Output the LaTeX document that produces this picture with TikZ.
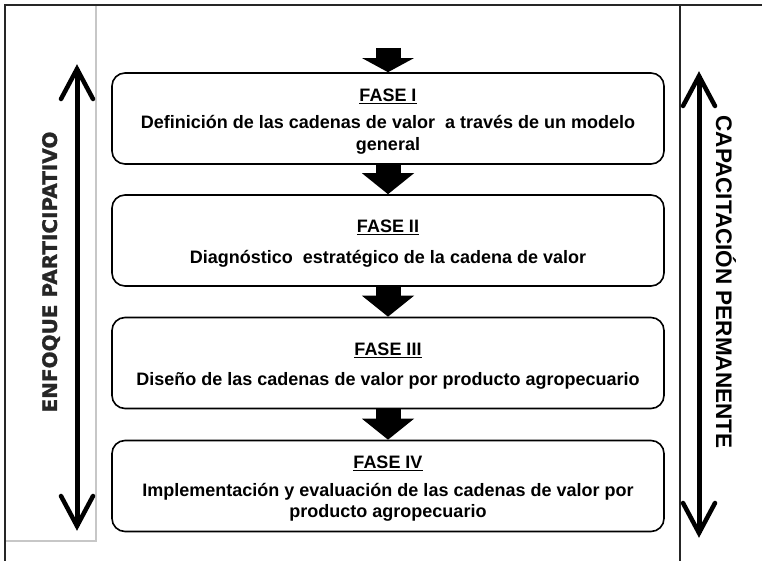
\documentclass[tikz,border=0pt]{standalone}
\usepackage{fontspec}
\setmainfont{Liberation Sans}
\newfontfamily\dejab[FakeBold=1.2]{DejaVu Sans}
\usetikzlibrary{arrows.meta,calc}

\begin{document}
\begin{tikzpicture}[x=1pt,y=-1pt,
  fasebox/.style={draw, line width=1.6pt, rounded corners=13pt,
    minimum width=552pt, minimum height=91pt, inner sep=0pt},
  fasetext/.style={align=center, inner sep=0pt,
    font=\bfseries\fontsize{18}{21.5}\selectfont},
  blockarrow/.style={line width=25pt, -{Triangle[length=21pt,width=51pt]}},
  toparrow/.style={line width=25pt, -{Triangle[length=14pt,width=51pt]}},
  shaft/.style={line width=5pt},
  chevron/.style={line width=4.5pt, line cap=round, line join=miter},
  frameline/.style={line width=1.5pt, black!85},
  panelline/.style={line width=2pt, black!22},
]
\useasboundingbox (0,0) rectangle (762,561);

% frame
\draw[panelline] (96,5) -- (96,541) -- (5,541);
\draw[frameline] (5,561) -- (5,5) -- (762,5);
\draw[frameline] (680,5) -- (680,561);

% phase boxes
\node[fasebox] (b1) at (388,118.5) {};
\node[fasebox] (b2) at (388,240.5) {};
\node[fasebox] (b3) at (388,363) {};
\node[fasebox] (b4) at (388,486) {};

\node[fasetext] (t1) at ($(b1.center)+(0,3)$) {\underline{FASE I}\\[6pt]Definición de las cadenas de valor\ \ a través de un modelo\\general};
\node[fasetext] (t2) at ($(b2.center)+(0,3)$) {\underline{FASE II}\\[9pt]Diagnóstico\ \ estratégico de la cadena de valor};
\node[fasetext] (t3) at ($(b3.center)+(0,3)$) {\underline{FASE III}\\[9pt]Diseño de las cadenas de valor por producto agropecuario};
\node[fasetext] (t4) at ($(b4.center)+(0,3)$) {\underline{FASE IV}\\[6pt]Implementación y evaluación de las cadenas de valor por\\producto agropecuario};

% block arrows
\coordinate (start) at (388,48);
\draw[toparrow] (start) -- (b1.north);
\draw[blockarrow] (b1.south) -- (b2.north);
\draw[blockarrow] (b2.south) -- (b3.north);
\draw[blockarrow] (b3.south) -- (b4.north);

% left double arrow
\coordinate (lt) at (77,69);
\coordinate (lb) at (77,526);
\draw[shaft] (lt) -- (lb);
\draw[chevron] ($(lt)+(-16,30)$) -- (lt) -- ($(lt)+(16,30)$);
\draw[chevron] ($(lb)+(-16,-30)$) -- (lb) -- ($(lb)+(16,-30)$);

% right double arrow
\coordinate (rt) at (699,76);
\coordinate (rb) at (699,533);
\draw[shaft] (rt) -- (rb);
\draw[chevron] ($(rt)+(-16,30)$) -- (rt) -- ($(rt)+(16,30)$);
\draw[chevron] ($(rb)+(-16,-30)$) -- (rb) -- ($(rb)+(16,-30)$);

% side labels
\node[rotate=90, font=\dejab\bfseries\fontsize{20}{24}\selectfont, text=black!85] (lab1) at (51,272) {ENFOQUE PARTICIPATIVO};
\node[rotate=-90, font=\bfseries\fontsize{22.5}{26}\selectfont] (lab2) at (726,282) {CAPACITACIÓN PERMANENTE};
\end{tikzpicture}
\end{document}
